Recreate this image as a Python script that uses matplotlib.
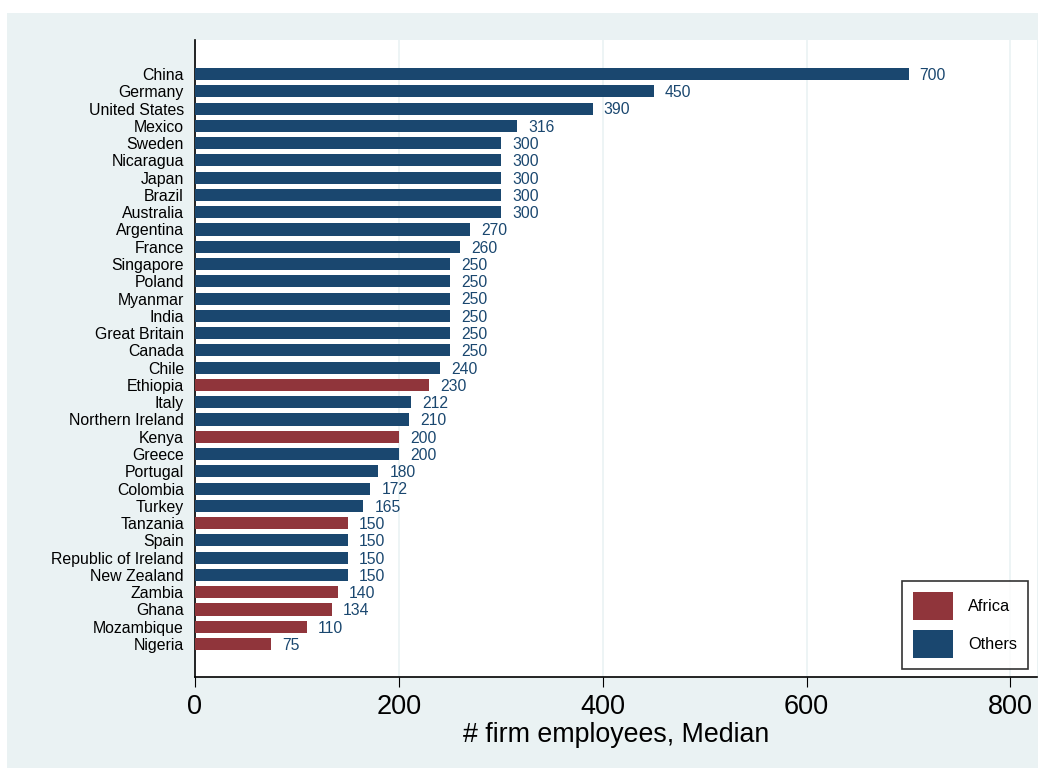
import matplotlib.pyplot as plt
from matplotlib.patches import Rectangle, Patch

plt.rcParams['font.family'] = ['Liberation Sans', 'DejaVu Sans']

countries = ["China", "Germany", "United States", "Mexico", "Sweden", "Nicaragua",
             "Japan", "Brazil", "Australia", "Argentina", "France", "Singapore",
             "Poland", "Myanmar", "India", "Great Britain", "Canada", "Chile",
             "Ethiopia", "Italy", "Northern Ireland", "Kenya", "Greece", "Portugal",
             "Colombia", "Turkey", "Tanzania", "Spain", "Republic of Ireland",
             "New Zealand", "Zambia", "Ghana", "Mozambique", "Nigeria"]
medians = [700, 450, 390, 316, 300, 300, 300, 300, 300, 270, 260, 250, 250, 250,
           250, 250, 250, 240, 230, 212, 210, 200, 200, 180, 172, 165, 150, 150,
           150, 150, 140, 134, 110, 75]
africa = ["Ethiopia", "Kenya", "Tanzania", "Zambia", "Ghana", "Mozambique", "Nigeria"]
xticks = [0, 200, 400, 600, 800]

navy = '#1a476f'
maroon = '#90353b'
bg = '#eaf2f3'

fig = plt.figure(figsize=(10.51, 7.69), dpi=100)
fig.patches.append(Rectangle((7 / 1051, 1 / 769), 1031 / 1051, 755 / 769,
                             transform=fig.transFigure, facecolor=bg,
                             edgecolor='none', zorder=-10))
ax = fig.add_axes([195 / 1051, 92 / 769, 842 / 1051, 637 / 769])
ax.set_facecolor('white')

ypos = list(range(len(countries)))
colors = [maroon if c in africa else navy for c in countries]
ax.barh(ypos, medians, height=0.7, color=colors, zorder=3)
for y, v in zip(ypos, medians):
    ax.annotate(str(v), (v, y), xytext=(8, -1), textcoords='offset points',
                va='center', ha='left', color=navy, fontsize=11.3)

ax.set_yticks(ypos)
ax.set_yticklabels(countries, fontsize=11.4)
ax.set_ylim(len(countries) - 1 + 1.91, -1.97)
ax.set_xlim(0, 826)
ax.set_xticks(xticks)
ax.set_xticklabels([str(t) for t in xticks], fontsize=19.5)
ax.tick_params(axis='y', length=0, pad=8)
ax.tick_params(axis='x', length=7, pad=5)
ax.grid(axis='x', color=bg, linewidth=1.2, zorder=0)
ax.set_xlabel('# firm employees, Median', fontsize=19.3, labelpad=2)
for s in ['top', 'right']:
    ax.spines[s].set_visible(False)
ax.spines['left'].set_linewidth(1.2)
ax.spines['bottom'].set_linewidth(1.2)

handles = [Patch(facecolor=maroon, label='Africa'), Patch(facecolor=navy, label='Others')]
leg = ax.legend(handles=handles, loc='lower right', bbox_to_anchor=(0.989, 0.013),
                fontsize=11.8, frameon=True, fancybox=False, handlelength=2.44,
                handleheight=2.25, handletextpad=0.91, borderpad=0.67, labelspacing=0.61,
                borderaxespad=0)
leg.get_frame().set_edgecolor('black')
leg.get_frame().set_linewidth(1.2)

fig.savefig('out.png', dpi=100, facecolor='white')
